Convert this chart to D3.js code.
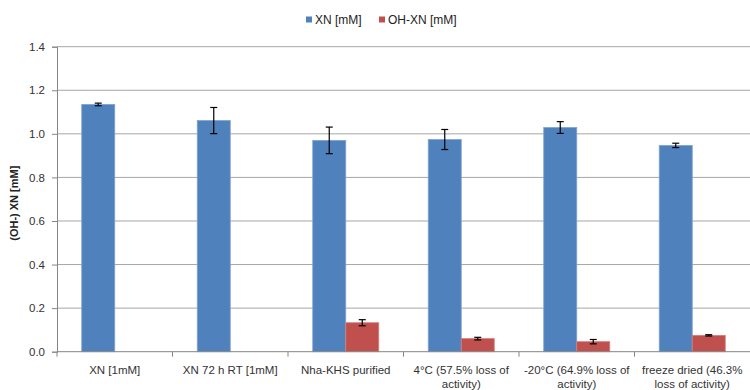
<!DOCTYPE html>
<html>
<head>
<meta charset="utf-8">
<script src="https://cdn.jsdelivr.net/npm/d3@7"></script>
<style>
  body { margin: 0; background: #fff; }
  text { font-family: "Liberation Sans", Arial, sans-serif; fill: #222; }
</style>
</head>
<body>
<svg id="chart" width="750" height="390"></svg>
<script>
// Categories along the x axis
const categories = [
    "XN [1mM]",
    "XN 72 h RT [1mM]",
    "Nha-KHS purified",
    "4°C (57.5% loss of activity)",
    "-20°C (64.9% loss of activity)",
    "freeze dried (46.3% loss of activity)"
];

// Series names, as shown in the legend
const seriesNames = ["XN [mM]", "OH-XN [mM]"];

// Values
const xnValues = [1.135, 1.061, 0.970, 0.974, 1.029, 0.947];
const xnErrors = [0.006, 0.060, 0.061, 0.046, 0.027, 0.010];
const ohValues = [0, 0, 0.133, 0.060, 0.046, 0.075];
const ohErrors = [null, null, 0.014, 0.006, 0.010, 0.003];

// y axis ticks
const yTicks = [0, 0.2, 0.4, 0.6, 0.8, 1.0, 1.2, 1.4];

const colors = ["#4F81BD", "#C0504D"];
const strokes = ["#7fa2d0", "#d47d7a"];

const width = 750;
const height = 390;
const margin = { top: 46.7, right: 0, bottom: 38.3, left: 57 };

const svg = d3.select("#chart");

const x0 = d3.scaleBand()
    .domain(categories)
    .range([margin.left, width - margin.right]);

const x1 = d3.scaleBand()
    .domain(seriesNames)
    .range([0, x0.bandwidth()])
    .paddingOuter(0.75);

const y = d3.scaleLinear()
    .domain([0, 1.4])
    .range([height - margin.bottom, margin.top]);

// gridlines
svg.append("g")
    .selectAll("line")
    .data(yTicks.slice(1))
    .enter()
    .append("line")
    .attr("x1", margin.left)
    .attr("x2", width - margin.right)
    .attr("y1", d => y(d))
    .attr("y2", d => y(d))
    .style("stroke", "#a6a6a6")
    .style("stroke-width", 1);

// build rows for the bars
const rows = categories.map((c, i) => ({
    cat: c,
    bars: [
        { s: seriesNames[0], v: xnValues[i], e: xnErrors[i], k: 0 },
        { s: seriesNames[1], v: ohValues[i], e: ohErrors[i], k: 1 }
    ]
}));

const groups = svg.append("g")
    .selectAll("g")
    .data(rows)
    .enter()
    .append("g")
    .attr("transform", d => "translate(" + x0(d.cat) + ",0)");

groups.selectAll("rect")
    .data(d => d.bars.filter(b => b.v > 0))
    .enter()
    .append("rect")
    .attr("x", d => x1(d.s))
    .attr("width", x1.bandwidth())
    .attr("y", d => y(d.v))
    .attr("height", d => y(0) - y(d.v))
    .style("fill", d => colors[d.k])
    .style("stroke", d => strokes[d.k])
    .style("stroke-width", 0.8);

// error bars
const err = groups.selectAll("g.err")
    .data(d => d.bars.filter(b => b.e != null))
    .enter()
    .append("g")
    .attr("class", "err")
    .style("stroke", "#000")
    .style("stroke-width", 1.2);

err.append("line")
    .attr("x1", d => x1(d.s) + x1.bandwidth() / 2)
    .attr("x2", d => x1(d.s) + x1.bandwidth() / 2)
    .attr("y1", d => y(d.v + d.e))
    .attr("y2", d => y(d.v - d.e));

[1, -1].forEach(function(sign) {
    err.append("line")
        .attr("x1", d => x1(d.s) + x1.bandwidth() / 2 - 3.5)
        .attr("x2", d => x1(d.s) + x1.bandwidth() / 2 + 3.5)
        .attr("y1", d => y(d.v + sign * d.e))
        .attr("y2", d => y(d.v + sign * d.e));
});

// y axis
const yAxis = svg.append("g")
    .attr("transform", "translate(" + margin.left + ",0)")
    .call(d3.axisLeft(y).tickValues(yTicks).tickFormat(d3.format(".1f")).tickSize(5).tickPadding(7));
yAxis.select(".domain").style("stroke", "#868686");
yAxis.selectAll(".tick line").style("stroke", "#868686");
yAxis.selectAll("text").style("font-size", "11.5px").style("fill", "#333");

// x axis, ticks on the category boundaries
const xAxis = svg.append("g")
    .attr("transform", "translate(0," + y(0) + ")");
xAxis.append("line")
    .attr("x1", margin.left)
    .attr("x2", width - margin.right)
    .style("stroke", "#868686");
xAxis.selectAll("line.tk")
    .data(categories)
    .enter()
    .append("line")
    .attr("class", "tk")
    .attr("x1", d => x0(d))
    .attr("x2", d => x0(d))
    .attr("y1", 0)
    .attr("y2", 5)
    .style("stroke", "#868686");

// category labels, wrapped into the band width
function wrap(textSel, w) {
    textSel.each(function() {
        const text = d3.select(this);
        const words = text.text().split(/\s+/);
        const cx = text.attr("x");
        text.text(null);
        let line = [];
        let tspan = text.append("tspan").attr("x", cx).attr("dy", 0);
        words.forEach(function(word) {
            line.push(word);
            tspan.text(line.join(" "));
            if (tspan.node().getComputedTextLength() > w && line.length > 1) {
                line.pop();
                tspan.text(line.join(" "));
                line = [word];
                tspan = text.append("tspan").attr("x", cx).attr("dy", "14px").text(word);
            }
        });
    });
}

xAxis.selectAll("text.lbl")
    .data(categories)
    .enter()
    .append("text")
    .attr("class", "lbl")
    .attr("x", d => x0(d) + x0.bandwidth() / 2)
    .attr("y", 22)
    .attr("text-anchor", "middle")
    .style("font-size", "11.5px")
    .style("fill", "#333")
    .text(d => d)
    .call(wrap, 114);

// y axis title
svg.append("text")
    .attr("transform", "translate(18," + ((y(0) + y(1.4)) / 2 + 4) + ") rotate(-90)")
    .attr("text-anchor", "middle")
    .style("font-size", "11px")
    .style("font-weight", "bold")
    .text("(OH-) XN [mM]");

// legend
const legendItems = [
    { name: seriesNames[0], x: 306 },
    { name: seriesNames[1], x: 379 }
];
const legend = svg.append("g")
    .selectAll("g")
    .data(legendItems)
    .enter()
    .append("g")
    .attr("transform", d => "translate(" + d.x + ",0)");
legend.append("rect")
    .attr("y", 16.5)
    .attr("width", 6)
    .attr("height", 6)
    .style("fill", (d, i) => colors[i]);
legend.append("text")
    .attr("x", 9)
    .attr("y", 24)
    .style("font-size", "12px")
    .style("fill", "#222")
    .text(d => d.name);
</script>
</body>
</html>
